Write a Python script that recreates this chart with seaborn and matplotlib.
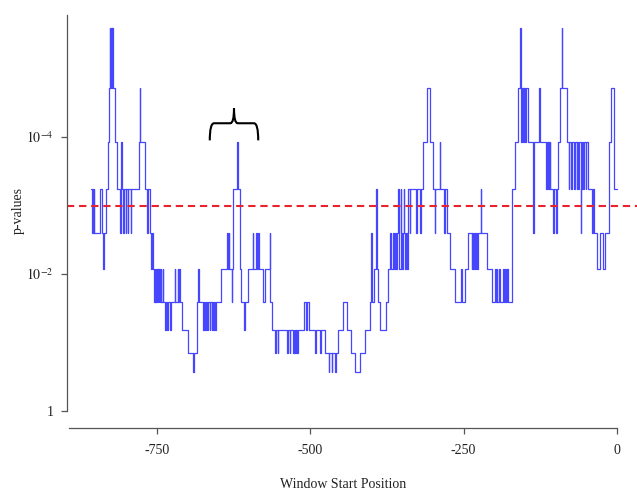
import matplotlib
matplotlib.use('Agg')
import matplotlib.pyplot as plt
from matplotlib.path import Path
from matplotlib.patches import PathPatch
import pandas as pd
import seaborn as sns

# discrete p-value levels
P_LEVEL = {'A': 2.6e-6, 'B': 1.9e-5, 'C': 1.2e-4, 'D': 5.8e-4, 'E': 2.5e-3,
           'F': 8.5e-3, 'G': 2.6e-2, 'H': 6.6e-2, 'I': 0.14, 'J': 0.27}

# window start where each step begins, and the level it steps to
win_start = [
    -857, -856, -855, -854, -853, -852, -843, -840, -838, -836, -834, -830,
    -828, -827, -826, -825, -824, -823, -821, -819, -815, -810, -809, -808,
    -807, -805, -804, -801, -800, -798, -797, -793, -792, -779, -778, -777,
    -770, -766, -764, -762, -760, -759, -756, -755, -754, -753, -752, -751,
    -750, -749, -748, -747, -746, -745, -744, -743, -741, -740, -737, -736,
    -734, -732, -729, -727, -721, -720, -716, -715, -714, -713, -710, -699,
    -691, -689, -685, -683, -682, -675, -674, -671, -670, -668, -667, -664,
    -663, -661, -660, -658, -657, -655, -654, -646, -636, -634, -633, -632,
    -628, -627, -626, -620, -618, -615, -613, -609, -606, -602, -594, -593,
    -588, -587, -585, -584, -577, -574, -566, -565, -562, -557, -556, -553,
    -552, -538, -537, -534, -533, -528, -527, -526, -525, -524, -523, -521,
    -520, -510, -507, -506, -503, -492, -491, -484, -483, -476, -470, -469,
    -465, -464, -460, -459, -455, -446, -441, -433, -427, -419, -411, -403,
    -401, -399, -396, -393, -392, -390, -386, -377, -374, -370, -368, -366,
    -364, -362, -360, -358, -357, -356, -355, -353, -352, -351, -349, -348,
    -347, -346, -344, -343, -341, -338, -337, -327, -326, -321, -320, -317,
    -310, -305, -300, -297, -296, -289, -288, -282, -281, -277, -272, -264,
    -254, -253, -248, -243, -237, -236, -235, -233, -232, -230, -228, -226,
    -222, -221, -212, -204, -199, -198, -196, -195, -192, -191, -186, -185,
    -182, -181, -179, -178, -172, -166, -161, -158, -157, -156, -155, -154,
    -153, -152, -151, -150, -149, -145, -137, -136, -127, -126, -115, -114,
    -113, -112, -111, -110, -109, -104, -103, -99, -98, -96, -93, -90,
    -89, -82, -79, -78, -75, -74, -70, -69, -66, -65, -63, -62,
    -59, -58, -57, -55, -54, -51, -50, -48, -41, -39, -37, -33,
    -28, -23, -20, -13, -9, -5, 0]

level_code = ("DEDEDEDEFEDC" "BABABABCDEDC" "DEDEDEDEDCBC" "DEDEFEFGFGFG"
              "FGFGFGFGFGHG" "HGHGFGFGFGHI" "JIGFGHGHGHGH" "GHGHGHGFEFEF"
              "GFDCDFGHGFEF" "EFEFGFEGHIHI" "HIHIHIHIHIHI" "HGHGHIHIHIJI"
              "JIJIHGHIJIHG" "EGFDFGHGFEFE" "FEFEDEFDEFED" "EFEFDEDEDEDC"
              "BCDEDCDEDEFG" "FGFEFEFEFEFE" "DEFGFGFGFGFG" "FGFGDCBABCBC"
              "BCBCBCECBCDC" "DCDCDEDEDCBA" "BCDCDCDCDCDC" "EDCDCDCDEDEF"
              "EFECBDD")
assert len(win_start) == len(level_code)

THRESHOLD = 1e-3
x_ticks = [-750, -500, -250, 0]
y_ticks = [1, 1e-2, 1e-4]
y_tick_labels = ['1', r'$10^{-2}$', r'$10^{-4}$']

# brace over the peak near -620 (annotation)
BRACE_X = (-664, -585)
BRACE_MID = -624.5
BRACE_Y = (1.12e-4, 6.3e-5, 3.8e-5)   # ends, bar, tip

df = pd.DataFrame({'start': win_start, 'p': [P_LEVEL[c] for c in level_code]})

sns.set_theme(style='ticks')
plt.rcParams['font.family'] = ['Liberation Serif', 'DejaVu Serif']
plt.rcParams['mathtext.fontset'] = 'stix'
plt.rcParams['axes.unicode_minus'] = False

fig = plt.figure(figsize=(6.37, 4.93), dpi=100)
ax = fig.add_axes([67 / 637, 65 / 493, 570 / 637, 418 / 493])

sns.lineplot(data=df, x='start', y='p', ax=ax, drawstyle='steps-post',
             estimator=None, sort=False, color='#4646ff', lw=0.9)
ax.axhline(THRESHOLD, color='#e8232d', lw=1.5, ls=(0, (3.5, 2.3)))

ax.set_yscale('log')
ax.set_xlim(-896.8, 32.6)
ax.set_ylim(1.77, 1.4e-6)
ax.yaxis.set_minor_locator(matplotlib.ticker.NullLocator())
ax.set_xticks(x_ticks)
ax.set_xticklabels([str(v) for v in x_ticks])
ax.set_yticks(y_ticks)
ax.set_yticklabels(y_tick_labels)
ax.set_xlabel('')
ax.set_ylabel('')

for side in ['top', 'right']:
    ax.spines[side].set_visible(False)
for side in ['left', 'bottom']:
    ax.spines[side].set_color('#555555')
    ax.spines[side].set_linewidth(0.9)
ax.spines['left'].set_bounds(1, 10 ** -5.78)
ax.spines['bottom'].set_bounds(-893, 0)
ax.tick_params(axis='both', direction='out', length=4.5, width=0.9,
               color='#555555', labelsize=10, labelcolor='#222222')
ax.tick_params(axis='y', pad=5)
ax.tick_params(axis='x', pad=7)

# curly brace
x0, x1 = BRACE_X
yend, ybar, ytip = BRACE_Y
verts = [(x0, yend), (x0, ybar), (x0 + 7, ybar), (BRACE_MID - 6, ybar),
         (BRACE_MID, ybar), (BRACE_MID, ytip), (BRACE_MID, ybar),
         (BRACE_MID + 6, ybar), (x1 - 7, ybar), (x1, ybar), (x1, yend)]
codes = [Path.MOVETO, Path.CURVE3, Path.CURVE3, Path.LINETO,
         Path.CURVE3, Path.CURVE3, Path.CURVE3, Path.CURVE3,
         Path.LINETO, Path.CURVE3, Path.CURVE3]
ax.add_patch(PathPatch(Path(verts, codes), fill=False, lw=1.5,
                       edgecolor='black', transform=ax.transData))

fig.text(343 / 637, 1 - 485 / 493, 'Window Start Position', ha='center',
         va='center', fontsize=10, color='#222222')
fig.text(18 / 637, 1 - 210 / 493, 'p-values', rotation=90, ha='center',
         va='center', fontsize=10, color='#222222')

fig.savefig('out.png', dpi=100)
